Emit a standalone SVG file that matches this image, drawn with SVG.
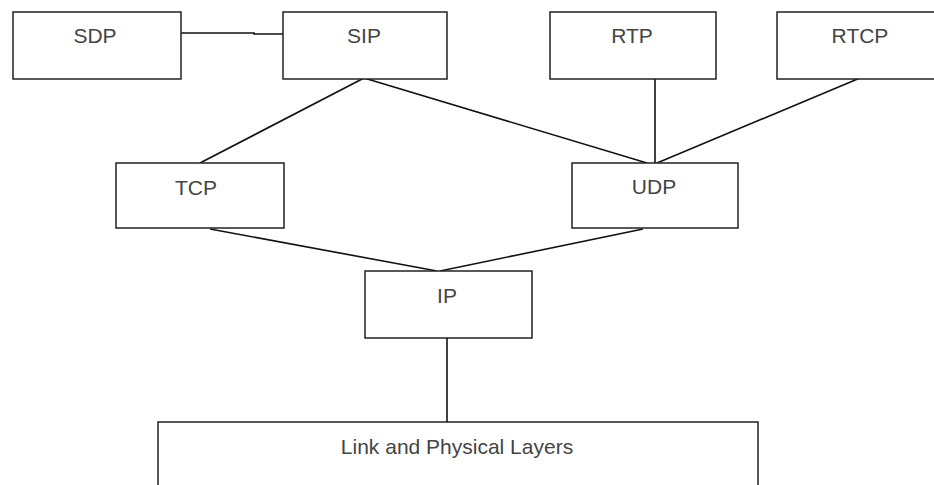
<svg xmlns="http://www.w3.org/2000/svg" width="934" height="485" viewBox="0 0 934 485">
<style>
.box{fill:#fff;stroke:#222;stroke-width:1.5}
.lbl{font-family:"Liberation Sans",Arial,sans-serif;font-size:21px;fill:#444;text-anchor:middle}
.c{stroke:#111;stroke-width:1.6;fill:none}
</style>
<rect width="934" height="485" fill="#fff"/>
<g id="connectors">
<polyline class="c" points="181,33 254,33 254,34 283,34"/>
<line class="c" x1="364" y1="78" x2="200" y2="163"/>
<line class="c" x1="364" y1="78" x2="647" y2="163"/>
<line class="c" x1="655" y1="78" x2="655" y2="163"/>
<line class="c" x1="860" y1="78" x2="657" y2="163"/>
<line class="c" x1="210" y1="229" x2="437" y2="271"/>
<line class="c" x1="643" y1="229" x2="440" y2="271"/>
<line class="c" x1="447" y1="338" x2="447" y2="422"/>
</g>
<g id="sdp"><rect class="box" x="13" y="12" width="168" height="67"/><text class="lbl" x="95" y="43">SDP</text></g>
<g id="sip"><rect class="box" x="283" y="12" width="164" height="67"/><text class="lbl" x="364" y="43">SIP</text></g>
<g id="rtp"><rect class="box" x="550" y="12" width="166" height="67"/><text class="lbl" x="632" y="43">RTP</text></g>
<g id="rtcp"><rect class="box" x="777" y="12" width="168" height="67"/><text class="lbl" x="860" y="43">RTCP</text></g>
<g id="tcp"><rect class="box" x="116" y="163" width="168" height="65"/><text class="lbl" x="196" y="195">TCP</text></g>
<g id="udp"><rect class="box" x="572" y="163" width="166" height="65"/><text class="lbl" x="654" y="194">UDP</text></g>
<g id="ip"><rect class="box" x="365" y="271" width="167" height="67"/><text class="lbl" x="447" y="303">IP</text></g>
<g id="link"><rect class="box" x="158" y="422" width="600" height="80"/><text class="lbl" x="457" y="454">Link and Physical Layers</text></g>
</svg>
